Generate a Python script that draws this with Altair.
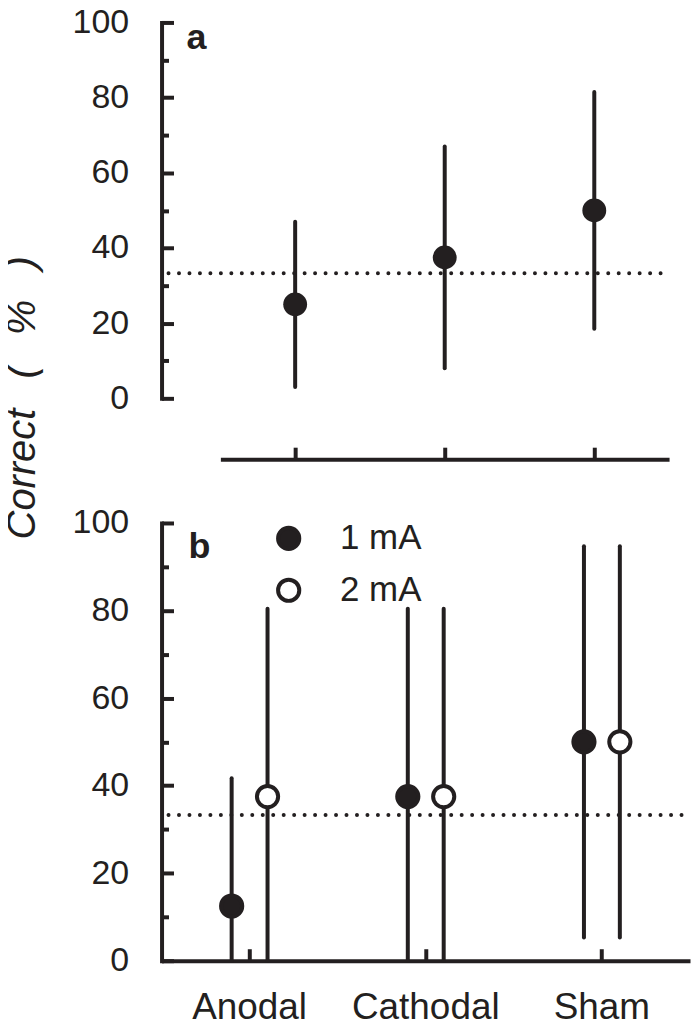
import altair as alt
import pandas as pd

# ---------------- data ----------------
categories = ["Anodal", "Cathodal", "Sham"]

# panel a
a_mean = [25, 37.5, 50]
a_lower = [3, 8, 18.5]
a_upper = [47, 67, 81.5]

# panel b
b_category = ["Anodal", "Anodal", "Cathodal", "Cathodal", "Sham", "Sham"]
b_current = ["1 mA", "2 mA", "1 mA", "2 mA", "1 mA", "2 mA"]
b_mean = [12.5, 37.5, 37.5, 37.5, 50, 50]
b_lower = [0, 0, 0, 0, 5.3, 5.3]
b_upper = [41.7, 80.4, 80.4, 80.4, 94.7, 94.7]

currents = ["1 mA", "2 mA"]
chance = [33.3]
major_ticks = [0, 20, 40, 60, 80, 100]
minor_ticks = [10, 30, 50, 70, 90]
panel_labels = ["a", "b"]
GAP = "\u00a0\u00a0\u2009"
y_title = "Correct" + GAP + "(" + GAP + "%" + GAP + ")"

# ---------------- style ----------------
INK = "#231f20"
FONT = "Liberation Sans"
W = 530
HA = 377
HB = 439

df_a = pd.DataFrame({"category": categories, "mean": a_mean,
                     "lower": a_lower, "upper": a_upper})
df_b = pd.DataFrame({"category": b_category, "current": b_current,
                     "mean": b_mean, "lower": b_lower, "upper": b_upper})
df_chance = pd.DataFrame({"chance": chance})


def ysc():
    return alt.Scale(domain=[0, 100], nice=False, zero=True)


def label_axis(title=None):
    kw = dict(orient="left", domain=False, ticks=False, tickSize=0,
              labelPadding=33, values=major_ticks, labelFontSize=34,
              labelColor=INK, labelFont=FONT, grid=False)
    if title is None:
        kw["title"] = None
    else:
        kw.update(title=title, titleX=-139, titleY=-126, titleAngle=270,
                  titleAlign="center", titleBaseline="middle",
                  titleFontSize=40, titleFontStyle="italic",
                  titleFontWeight="normal", titleFont=FONT, titleColor=INK)
    return alt.Axis(**kw)


def major_axis():
    return alt.Axis(orient="right", offset=-W, domain=True, domainWidth=4,
                    domainColor=INK, domainCap="square", ticks=True,
                    tickSize=12, tickWidth=4, tickColor=INK,
                    values=major_ticks, labels=False, grid=False, title=None,
                    minExtent=0)


def minor_axis():
    return alt.Axis(orient="right", offset=-W, domain=False, ticks=True,
                    tickSize=7, tickWidth=4, tickColor=INK,
                    values=minor_ticks, labels=False, grid=False, title=None,
                    minExtent=0)


# ---------------- panel a ----------------
xa_scale = alt.Scale(domain=categories, range=[59, 509],
                     paddingInner=0, paddingOuter=0)
xa_axis = alt.Axis(orient="top", offset=-(HA + 61), domainWidth=4,
                   domainColor=INK, tickSize=12, tickWidth=4, tickColor=INK,
                   labels=False, title=None, grid=False)

rules_a = alt.Chart(df_a).mark_rule(strokeWidth=4, strokeCap="round",
                                    color=INK).encode(
    x=alt.X("category:N", scale=xa_scale, sort=categories, axis=xa_axis),
    y=alt.Y("lower:Q", scale=ysc(), axis=label_axis()),
    y2="upper:Q",
)
points_a = alt.Chart(df_a).mark_circle(size=572, color=INK, opacity=1).encode(
    x=alt.X("category:N", scale=xa_scale, sort=categories, axis=None),
    y=alt.Y("mean:Q", scale=ysc(), axis=major_axis()),
)
chance_a = alt.Chart(df_chance).mark_rule(
    strokeWidth=4, strokeDash=[0, 10.5], strokeCap="round", color=INK
).encode(
    x=alt.value(7), x2=alt.value(509),
    y=alt.Y("chance:Q", scale=ysc(), axis=minor_axis()),
)
label_a = alt.Chart(pd.DataFrame({"label": [panel_labels[0]]})).mark_text(
    align="left", baseline="alphabetic", fontSize=36, fontWeight="bold",
    font=FONT, color=INK
).encode(x=alt.value(25), y=alt.value(27), text="label:N")

panel_a = alt.layer(chance_a, rules_a, points_a, label_a).resolve_axis(
    x="independent", y="independent"
).properties(width=W, height=HA)

# ---------------- panel b ----------------
xb_scale = alt.Scale(domain=categories, paddingInner=0, paddingOuter=0)
xb_axis_line = alt.Axis(orient="top", offset=-HB, domainWidth=4,
                        domainColor=INK, tickSize=12,
                        tickWidth=4, tickColor=INK, labels=False, title=None,
                        grid=False)
xb_axis_labels = alt.Axis(orient="bottom", domain=False, ticks=False,
                          tickSize=0, labelPadding=58, labelFontSize=37,
                          labelBaseline="alphabetic",
                          labelFont=FONT, labelColor=INK, labelAngle=0,
                          title=None, grid=False)
off_scale = alt.Scale(type="point", domain=currents, range=[70.3, 106.3],
                      padding=0)

rules_b = alt.Chart(df_b).mark_rule(strokeWidth=4, strokeCap="round",
                                    color=INK).encode(
    x=alt.X("category:N", scale=xb_scale, sort=categories, axis=xb_axis_line),
    xOffset=alt.XOffset("current:N", scale=off_scale),
    y=alt.Y("lower:Q", scale=ysc(), axis=label_axis(y_title)),
    y2="upper:Q",
)
points_b = alt.Chart(df_b).mark_point(
    filled=True, size=452, stroke=INK, strokeWidth=4, opacity=1,
    shape="circle"
).encode(
    x=alt.X("category:N", scale=xb_scale, sort=categories,
            axis=xb_axis_labels),
    xOffset=alt.XOffset("current:N", scale=off_scale),
    y=alt.Y("mean:Q", scale=ysc(), axis=major_axis()),
    fill=alt.Fill(
        "current:N",
        scale=alt.Scale(domain=currents, range=[INK, "white"]),
        legend=alt.Legend(orient="none", legendX=110, legendY=-2, title=None,
                          labelFontSize=35, labelFont=FONT, labelColor=INK,
                          symbolSize=452, symbolStrokeWidth=4,
                          symbolStrokeColor=INK, symbolType="circle",
                          labelOffset=34, rowPadding=13),
    ),
)
chance_b = alt.Chart(df_chance).mark_rule(
    strokeWidth=4, strokeDash=[0, 10.5], strokeCap="round", color=INK
).encode(
    x=alt.value(7), x2=alt.value(W),
    y=alt.Y("chance:Q", scale=ysc(), axis=minor_axis()),
)
label_b = alt.Chart(pd.DataFrame({"label": [panel_labels[1]]})).mark_text(
    align="left", baseline="alphabetic", fontSize=36, fontWeight="bold",
    font=FONT, color=INK
).encode(x=alt.value(27), y=alt.value(35), text="label:N")

panel_b = alt.layer(chance_b, rules_b, points_b, label_b).resolve_axis(
    x="independent", y="independent"
).properties(width=W, height=HB)

chart = alt.vconcat(panel_a, panel_b, spacing=125, bounds="flush").resolve_scale(
    x="independent", y="independent", fill="independent"
).resolve_legend(fill="independent").properties(
    padding={"left": -6, "top": -4, "right": 0, "bottom": -6},
    background="white",
).configure_view(stroke=None)

chart.save("out.html", embed_options={"renderer": "svg", "actions": False})
